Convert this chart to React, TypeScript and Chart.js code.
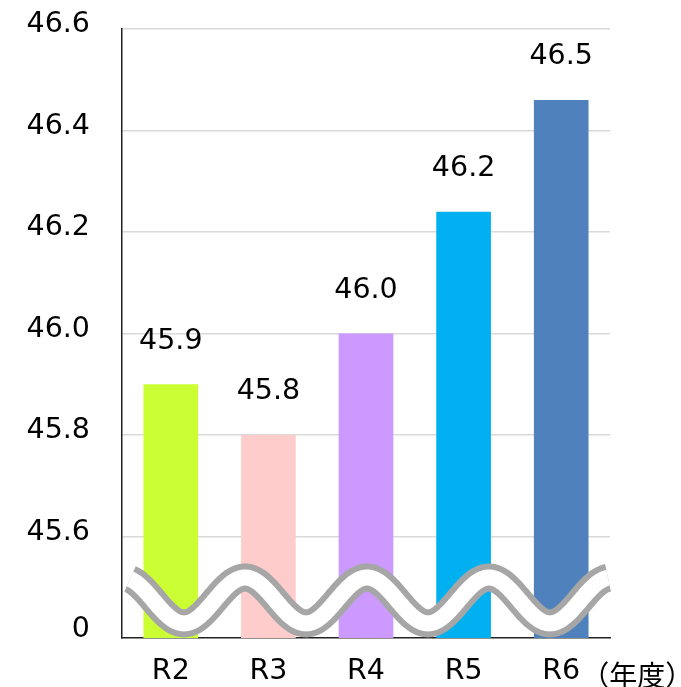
import React, { useEffect, useRef } from "react";
import { Chart, registerables } from "chart.js";

Chart.register(...registerables);

const categories = ["R2", "R3", "R4", "R5", "R6"];
const values = [45.9, 45.8, 46.0, 46.24, 46.46];
const barColors = ["#ccff33", "#ffcccc", "#cc99ff", "#00b0f0", "#4f81bd"];
// broken axis: bottom of the axis stands for 0
const yTickValues = [45.408, 45.6, 45.8, 46.0, 46.2, 46.4, 46.6];
const yTickLabels = ["0", "45.6", "45.8", "46.0", "46.2", "46.4", "46.6"];
const yMin = 45.4;
const yMax = 46.6;
const unitLabel = "（年度）";

const FONT = "'DejaVu Sans', Verdana, sans-serif";
const FS = 28.5;

const wavePlugin = {
  id: "wave",
  afterDatasetsDraw(chart: any) {
    const { ctx, chartArea, scales } = chart;
    const y = scales.y;
    const { left, right } = chartArea;
    const base = y.getPixelForValue(45.6);
    const unit = base - y.getPixelForValue(45.8);
    const mid = base + 0.63 * unit;
    const amp = 0.226 * unit;
    const period = (right - left) / 4;
    const path = () => {
      ctx.beginPath();
      for (let x = left + 8; x <= right - 2; x += 1) {
        const yy = mid - amp * Math.cos((2 * Math.PI * (x - left - 1)) / period);
        if (x === left + 8) ctx.moveTo(x, yy);
        else ctx.lineTo(x, yy);
      }
    };
    ctx.save();
    ctx.lineCap = "butt";
    ctx.lineJoin = "round";
    path();
    ctx.strokeStyle = "#a6a6a6";
    ctx.lineWidth = 28;
    ctx.stroke();
    path();
    ctx.strokeStyle = "#ffffff";
    ctx.lineWidth = 16;
    ctx.stroke();
    ctx.restore();
  },
  afterDraw(chart: any) {
    const { ctx, chartArea, scales } = chart;
    const meta = chart.getDatasetMeta(0);
    ctx.save();
    ctx.fillStyle = "#000";
    ctx.font = `${FS}px ${FONT}`;
    ctx.textAlign = "center";
    ctx.textBaseline = "middle";
    meta.data.forEach((bar: any, i: number) => {
      const v = values[i];
      ctx.fillText((Math.round(v * 10) / 10).toFixed(1), bar.x, bar.y - 43);
    });
    ctx.font = `28px 'Noto Sans CJK JP', sans-serif`;
    ctx.textAlign = "left";
    const xLast = scales.x.getPixelForValue(categories.length - 1);
    ctx.fillText(unitLabel, xLast + 20, chartArea.bottom + 37);
    ctx.restore();
  },
};

export default function App() {
  const ref = useRef<HTMLCanvasElement | null>(null);
  useEffect(() => {
    if (!ref.current) return;
    const chart = new Chart(ref.current, {
      type: "bar",
      data: {
        labels: categories,
        datasets: [
          {
            data: values,
            backgroundColor: barColors,
            borderWidth: 0,
            barPercentage: 0.56,
            categoryPercentage: 1,
          },
        ],
      },
      options: {
        animation: false,
        responsive: true,
        maintainAspectRatio: false,
        layout: { padding: { top: 29, right: 71, bottom: 0, left: 0 } },
        plugins: { legend: { display: false }, tooltip: { enabled: false } },
        scales: {
          x: {
            grid: { display: false, drawTicks: false },
            border: { display: true, color: "#222", width: 1.5 },
            ticks: { color: "#000", font: { family: FONT, size: FS }, padding: 16 },
            afterFit: (s: any) => {
              s.height = 49;
              s.paddingLeft = 0;
              s.paddingRight = 0;
            },
          },
          y: {
            min: yMin,
            max: yMax,
            afterBuildTicks: (s: any) => {
              s.ticks = yTickValues.map((v) => ({ value: v }));
            },
            grid: {
              drawTicks: false,
              color: (c: any) => (c.tick && c.tick.value < 45.5 ? "rgba(0,0,0,0)" : "#d9d9d9"),
              lineWidth: 1.5,
            },
            border: { display: true, color: "#222", width: 1.5 },
            ticks: {
              color: "#000",
              font: { family: FONT, size: FS },
              padding: 32,
              labelOffset: -4,
              autoSkip: false,
              callback: (v: any) => {
                const i = yTickValues.indexOf(Number(v));
                return i >= 0 ? yTickLabels[i] : "";
              },
            },
            afterFit: (s: any) => {
              s.width = 122;
              s.paddingTop = 0;
              s.paddingBottom = 0;
            },
          },
        },
      },
      plugins: [wavePlugin],
    });
    return () => chart.destroy();
  }, []);
  return (
    <div style={{ position: "absolute", left: 0, top: 0, width: 681, height: 687 }}>
      <canvas ref={ref} />
    </div>
  );
}
